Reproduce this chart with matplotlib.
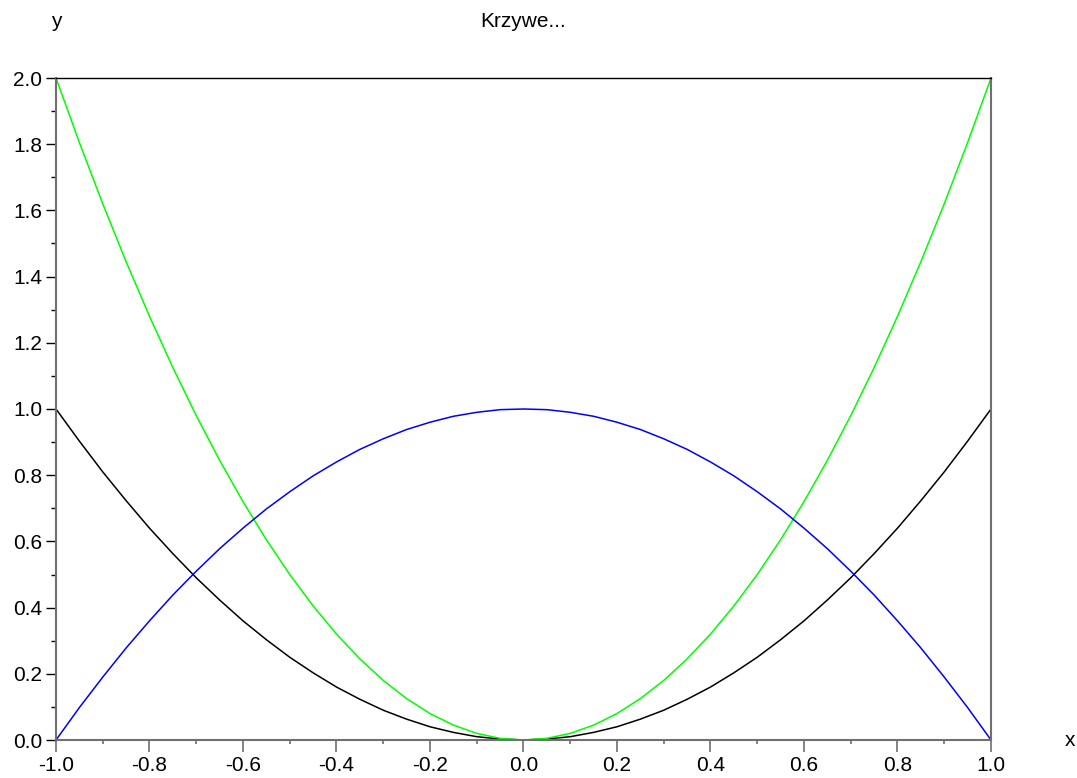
import numpy as np
import matplotlib.pyplot as plt

plt.rcParams['font.family'] = ['Liberation Sans', 'DejaVu Sans']

# punkty (krok 0.05)
x = [-1.00, -0.95, -0.90, -0.85, -0.80, -0.75, -0.70, -0.65, -0.60, -0.55, -0.50,
     -0.45, -0.40, -0.35, -0.30, -0.25, -0.20, -0.15, -0.10, -0.05, 0.00,
     0.05, 0.10, 0.15, 0.20, 0.25, 0.30, 0.35, 0.40, 0.45, 0.50,
     0.55, 0.60, 0.65, 0.70, 0.75, 0.80, 0.85, 0.90, 0.95, 1.00]

# czarna krzywa
y_black = [1.000, 0.903, 0.810, 0.723, 0.640, 0.563, 0.490, 0.423, 0.360, 0.303, 0.250,
           0.203, 0.160, 0.123, 0.090, 0.063, 0.040, 0.023, 0.010, 0.003, 0.000,
           0.003, 0.010, 0.023, 0.040, 0.063, 0.090, 0.123, 0.160, 0.203, 0.250,
           0.303, 0.360, 0.423, 0.490, 0.563, 0.640, 0.723, 0.810, 0.903, 1.000]

# zielona krzywa
y_green = [2.000, 1.805, 1.620, 1.445, 1.280, 1.125, 0.980, 0.845, 0.720, 0.605, 0.500,
           0.405, 0.320, 0.245, 0.180, 0.125, 0.080, 0.045, 0.020, 0.005, 0.000,
           0.005, 0.020, 0.045, 0.080, 0.125, 0.180, 0.245, 0.320, 0.405, 0.500,
           0.605, 0.720, 0.845, 0.980, 1.125, 1.280, 1.445, 1.620, 1.805, 2.000]

# niebieska krzywa
y_blue = [0.000, 0.098, 0.190, 0.278, 0.360, 0.438, 0.510, 0.578, 0.640, 0.698, 0.750,
          0.798, 0.840, 0.878, 0.910, 0.938, 0.960, 0.978, 0.990, 0.998, 1.000,
          0.998, 0.990, 0.978, 0.960, 0.938, 0.910, 0.878, 0.840, 0.798, 0.750,
          0.698, 0.640, 0.578, 0.510, 0.438, 0.360, 0.278, 0.190, 0.098, 0.000]

x_ticks = [-1.0, -0.8, -0.6, -0.4, -0.2, 0.0, 0.2, 0.4, 0.6, 0.8, 1.0]
y_ticks = [0.0, 0.2, 0.4, 0.6, 0.8, 1.0, 1.2, 1.4, 1.6, 1.8, 2.0]

fig = plt.figure(figsize=(10.77, 7.78), dpi=100)
ax = fig.add_axes([56/1077, 1 - 740/778, 935/1077, 662/778])

ax.plot(x, y_black, color='black', linewidth=1.1)
ax.plot(x, y_green, color='#00ff00', linewidth=1.1)
ax.plot(x, y_blue, color='#0000ff', linewidth=1.1)

ax.set_xlim(-1.0, 1.0)
ax.set_ylim(0.0, 2.0)

ax.set_xticks(x_ticks)
ax.set_xticklabels(['%.1f' % v for v in x_ticks])
ax.set_xticks(np.arange(-0.9, 1.0, 0.2), minor=True)
ax.set_yticks(y_ticks)
ax.set_yticklabels(['%.1f' % v for v in y_ticks])
ax.set_yticks(np.arange(0.1, 2.0, 0.2), minor=True)

ax.tick_params(axis='x', which='major', direction='out', length=8.5, width=1.2,
               color='#707070', pad=3, labelsize=15)
ax.tick_params(axis='x', which='minor', direction='out', length=3, width=1.2,
               color='#707070')
ax.tick_params(axis='y', which='major', direction='out', length=7, width=1.0,
               color='black', pad=3, labelsize=15)
ax.tick_params(axis='y', which='minor', direction='out', length=3.5, width=1.0,
               color='black')

for s in ['left', 'bottom', 'right']:
    ax.spines[s].set_color('#707070')
    ax.spines[s].set_linewidth(1.5)
ax.spines['top'].set_color('black')
ax.spines['top'].set_linewidth(1.0)

ax.set_xlabel('x', fontsize=15)
ax.xaxis.set_label_coords(1.0845, 0.0)
ax.xaxis.label.set_va('center')
ax.set_ylabel('y', fontsize=15, rotation=0)
ax.yaxis.set_label_coords(0.0, 1.0846)
ax.yaxis.label.set_va('center')
ax.yaxis.label.set_ha('center')

ax.text(0.5, 1.0846, 'Krzywe...', transform=ax.transAxes, ha='center', va='center',
        fontsize=15)

plt.savefig('out.png', dpi=100)
